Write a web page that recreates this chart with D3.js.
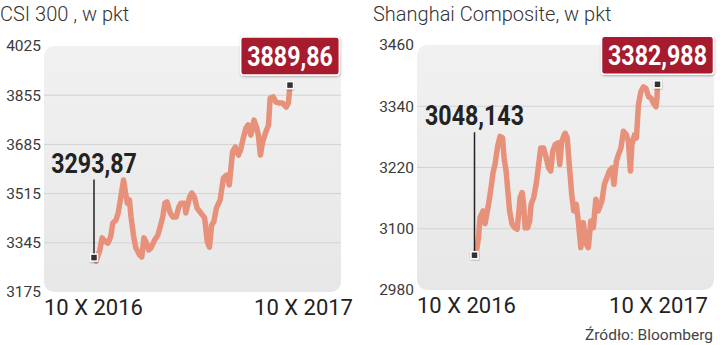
<!DOCTYPE html>
<html>
<head>
<meta charset="utf-8">
<script src="https://cdn.jsdelivr.net/npm/d3@7"></script>
<style>
  body { margin: 0; background: #fff; }
  text { font-family: Roboto, "Noto Sans", sans-serif; }
</style>
</head>
<body>
<svg id="chart"></svg>
<script>
// CSI 300, days since 10 X 2016 and index value
const csiDays = [0,4,11,15,20,26,31,35,41,45,
    50,55,58,62,66,69,74,78,85,89,
    93,97,102,106,113,119,124,128,132,136,
    142,147,153,158,162,169,171,178,182,187,
    192,199,206,211,215,219,223,228,235,241,
    247,252,258,263,269,273,278,283,287,292,
    298,303,306,310,314,320,325,328,334,339,
    345,351,358,362,365];
const csiValues = [3293.87,3282,3320,3362,3351,3344,3365,3413,3424,3448,
    3503,3562,3527,3482,3493,3434,3365,3327,3303,3296,
    3362,3348,3320,3327,3355,3372,3406,3434,3482,3486,
    3448,3434,3434,3469,3482,3482,3448,3503,3517,3503,
    3465,3448,3431,3348,3330,3406,3417,3465,3493,3569,
    3579,3545,3659,3676,3648,3666,3707,3742,3752,3717,
    3769,3742,3717,3648,3693,3728,3752,3845,3849,3831,
    3828,3828,3814,3828,3889.86];
const csiTicks = [3175, 3345, 3515, 3685, 3855, 4025];

// Shanghai Composite
const shDays = [0,3,8,11,17,21,28,33,37,41,
    46,51,56,59,63,66,70,75,80,85,
    88,91,95,98,101,106,110,113,118,123,
    128,132,138,143,148,152,156,161,166,170,
    174,179,181,185,189,194,198,203,207,212,
    217,223,227,232,237,242,247,254,259,264,
    269,274,278,283,287,292,297,303,307,311,
    314,319,323,327,332,337,342,347,352,357,
    362,364,365];
const shValues = [3048.143,3050,3083,3122,3135,3110,3148,3180,3210,3226,
    3261,3281,3278,3239,3213,3180,3135,3109,3102,3099,
    3128,3161,3171,3148,3102,3102,3115,3148,3161,3187,
    3226,3258,3258,3239,3219,3213,3252,3265,3268,3226,
    3271,3284,3287,3278,3226,3167,3135,3148,3115,3063,
    3112,3070,3063,3115,3102,3158,3135,3154,3187,3200,
    3213,3219,3187,3232,3245,3258,3291,3284,3271,3213,
    3265,3284,3278,3343,3369,3378,3375,3359,3356,3346,
    3339,3356,3382.988];
const shTicks = [2980, 3100, 3220, 3340, 3460];

const titles = ['CSI 300 , w pkt', 'Shanghai Composite, w pkt'];
const xLabels = ['10 X 2016', '10 X 2017'];
const source = 'Źródło: Bloomberg';

const startDate = new Date(2016, 9, 10);
const fmtPl = v => String(v).replace('.', ',');
const squeeze = 0.86; // condensed look for the bold callout numbers

const width = 720, height = 345;
const svg = d3.select('#chart').attr('width', width).attr('height', height);

const defs = svg.append('defs');
const grad = defs.append('linearGradient').attr('id', 'panelGrad')
    .attr('x1', 0).attr('y1', 0).attr('x2', 0).attr('y2', 1);
grad.append('stop').attr('offset', '0%').attr('stop-color', '#f1f1f1');
grad.append('stop').attr('offset', '100%').attr('stop-color', '#e7e7e7');
defs.append('filter').attr('id', 'shadow')
    .attr('x', '-20%').attr('y', '-20%').attr('width', '140%').attr('height', '150%')
  .append('feDropShadow')
    .attr('dx', 0.5).attr('dy', 1).attr('stdDeviation', 1.2)
    .attr('flood-color', '#000').attr('flood-opacity', 0.3);

function drawChart(cfg) {
    const g = svg.append('g');
    const p = cfg.panel;

    const data = cfg.days.map((d, i) => ({
        date: d3.timeDay.offset(startDate, d),
        value: cfg.values[i]
    }));

    const x = d3.scaleTime()
        .domain(d3.extent(data, d => d.date))
        .range(cfg.lineRange);
    const y = d3.scaleLinear()
        .domain(d3.extent(cfg.ticks))
        .range([p.y + p.h, p.y]);

    // title
    g.append('text')
        .attr('x', cfg.titleX).attr('y', 21)
        .attr('font-size', 20).attr('font-weight', 300)
        .attr('fill', '#333')
        .text(cfg.title);

    // panel
    g.append('rect')
        .attr('x', p.x).attr('y', p.y)
        .attr('width', p.w).attr('height', p.h)
        .attr('rx', 10)
        .attr('fill', 'url(#panelGrad)');

    // grid
    g.append('g')
        .selectAll('line')
        .data(cfg.ticks.slice(1, -1))
        .join('line')
        .attr('x1', p.x).attr('x2', p.x + p.w)
        .attr('y1', d => y(d)).attr('y2', d => y(d))
        .attr('stroke', '#d2d2d2').attr('stroke-width', 1);

    // y axis labels
    g.append('g')
        .attr('transform', `translate(${p.x - 3},0)`)
        .call(d3.axisLeft(y).tickValues(cfg.ticks).tickFormat(d3.format('d'))
            .tickSize(0).tickPadding(0))
        .call(a => a.select('.domain').remove())
        .call(a => a.selectAll('text')
            .attr('font-family', 'Roboto, sans-serif')
            .attr('font-size', 15.5)
            .attr('fill', '#3a3a3a'));

    // x labels
    g.append('text')
        .attr('x', p.x).attr('y', p.y + p.h + 23)
        .attr('font-size', 22).attr('fill', '#222')
        .text(xLabels[0]);
    g.append('text')
        .attr('x', cfg.xLabelEnd).attr('y', p.y + p.h + 23)
        .attr('text-anchor', 'end')
        .attr('font-size', 22).attr('fill', '#222')
        .text(xLabels[1]);

    // line
    const line = d3.line()
        .x(d => x(d.date))
        .y(d => y(d.value));
    g.append('path')
        .datum(data)
        .attr('d', line)
        .attr('fill', 'none')
        .attr('stroke', '#e8917a')
        .attr('stroke-width', 5.5)
        .attr('stroke-linejoin', 'round')
        .attr('stroke-linecap', 'round');

    const first = data[0], last = data[data.length - 1];
    const fx = x(first.date), fy = y(first.value);
    const lx = x(last.date), ly = y(last.value);

    // start callout
    g.append('line')
        .attr('x1', fx).attr('x2', fx)
        .attr('y1', fy - cfg.startGap + 7).attr('y2', fy)
        .attr('stroke', '#222').attr('stroke-width', 1.5);
    g.append('text')
        .attr('transform', `translate(${fx},${fy - cfg.startGap}) scale(${squeeze},1)`)
        .attr('text-anchor', 'middle')
        .attr('font-size', 27).attr('font-weight', 700)
        .attr('fill', '#222')
        .text(fmtPl(first.value));

    // end callout box
    const box = g.append('g');
    const bt = box.append('text')
        .attr('transform', `translate(${lx},${ly - 19.5}) scale(${squeeze},1)`)
        .attr('text-anchor', 'middle')
        .attr('font-size', 27).attr('font-weight', 700)
        .attr('fill', '#fff')
        .text(fmtPl(last.value));
    const tw = bt.node().getComputedTextLength() * squeeze;
    box.insert('rect', 'text')
        .attr('x', lx - tw / 2 - 6.5).attr('y', ly - 48)
        .attr('width', tw + 13).attr('height', 38)
        .attr('rx', 3)
        .attr('fill', '#a61b2f')
        .attr('stroke', '#fff').attr('stroke-width', 1.5)
        .attr('filter', 'url(#shadow)');

    // markers
    g.append('g')
        .selectAll('rect')
        .data([first, last])
        .join('rect')
        .attr('x', d => x(d.date) - 3.5)
        .attr('y', d => y(d.value) - 3.5)
        .attr('width', 7).attr('height', 7)
        .attr('fill', '#333')
        .attr('stroke', '#fff').attr('stroke-width', 1.5)
        .attr('filter', 'url(#shadow)');
}

drawChart({
    title: titles[0], titleX: 0,
    panel: {x: 44, y: 46, w: 297, h: 246},
    lineRange: [94, 290],
    days: csiDays, values: csiValues, ticks: csiTicks,
    startGap: 85, xLabelEnd: 353
});

drawChart({
    title: titles[1], titleX: 373,
    panel: {x: 417, y: 45, w: 297, h: 245},
    lineRange: [474.5, 657.5],
    days: shDays, values: shValues, ticks: shTicks,
    startGap: 130, xLabelEnd: 708
});

svg.append('text')
    .attr('x', 713).attr('y', 340)
    .attr('text-anchor', 'end')
    .attr('font-size', 15.5).attr('fill', '#444')
    .text(source);
</script>
</body>
</html>
